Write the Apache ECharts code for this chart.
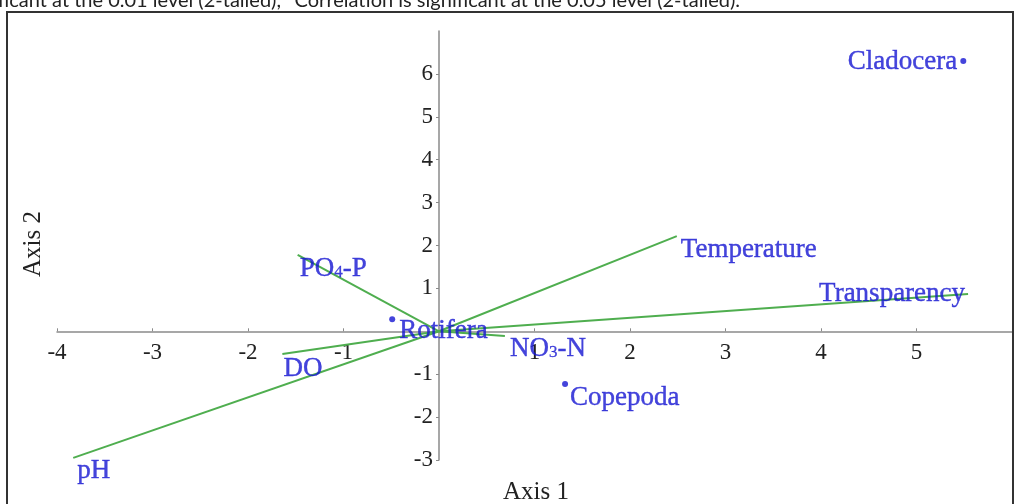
<!DOCTYPE html>
<html>
<head>
<meta charset="utf-8">
<script src="https://cdn.jsdelivr.net/npm/echarts@6/dist/echarts.min.js"></script>
<style>
html,body{margin:0;padding:0;background:#fff;}
#c{width:1017px;height:504px;}
</style>
</head>
<body>
<div id="c"></div>
<script>
// ---- data ----
const xTicks = [-4, -3, -2, -1, 1, 2, 3, 4, 5];
const yTicks = [-3, -2, -1, 1, 2, 3, 4, 5, 6];
const speciesNames = ['Cladocera', 'Rotifera', 'Copepoda'];
const speciesX = [5.49, -0.49, 1.32];
const speciesY = [6.30, 0.28, -1.23];
const varNames = ['Temperature', 'Transparency', 'PO4-P', 'DO', 'pH', 'NO3-N'];
const varX = [2.49, 5.54, -1.48, -1.64, -3.83, 0.69];
const varY = [2.22, 0.87, 1.78, -0.53, -2.95, -0.11];
const footText = '**Correlation is significant at the 0.01 level (2-tailed), *Correlation is significant at the 0.05 level (2-tailed).';

// ---- styles ----
const labelStyle = {
  'Cladocera':    {position: 'left',  distance: 3, offset: [0, 1]},
  'Rotifera':     {position: 'right', distance: 4, offset: [0, 12]},
  'Copepoda':     {position: 'right', distance: 2, offset: [0, 14]},
  'Temperature':  {position: 'right', distance: 4, offset: [0, 14]},
  'Transparency': {position: 'left',  distance: 3, offset: [0, 0]},
  'PO4-P':        {position: 'right', distance: 2, offset: [0, 14]},
  'DO':           {position: 'right', distance: 1, offset: [0, 15]},
  'pH':           {position: 'right', distance: 4, offset: [0, 13]},
  'NO3-N':        {position: 'right', distance: 5, offset: [0, 13]}
};
const BLUE = '#1515d2';
const GREEN = '#4fae4f';
const AXIS = '#8a8a8a';
const SERIF = '"Liberation Serif", "Times New Roman", serif';

// grid geometry (pixels)
const G = {left: 57, right: 5, top: 31, bottom: 44, W: 1017, H: 504};
const xMin = -4, xMax = 6, yMin = -3, yMax = 7;
const gw = G.W - G.left - G.right, gh = G.H - G.top - G.bottom;
const xZeroOffset = -((0 - xMin) / (xMax - xMin)) * gw;
const yZeroOffset = -((0 - yMin) / (yMax - yMin)) * gh;

function richName(n) {
  if (n === 'PO4-P') return '{t|PO}{s|4}{t|-P}';
  if (n === 'NO3-N') return '{t|NO}{s|3}{t|-N}';
  return '{t|' + n + '}';
}
const rich = {
  t: {fontFamily: SERIF, fontSize: 27, color: BLUE, lineHeight: 30, textBorderColor: BLUE, textBorderWidth: 0.4},
  s: {fontFamily: SERIF, fontSize: 17, color: BLUE, lineHeight: 30, verticalAlign: 'bottom', padding: [0, 0, 3, 0],
      textBorderColor: BLUE, textBorderWidth: 0.3}
};
function makeLabel(n) {
  const s = labelStyle[n];
  return {show: true, position: s.position, distance: s.distance, offset: s.offset,
          formatter: richName(n), rich: rich};
}

const chart = echarts.init(document.getElementById('c'), null, {renderer: 'canvas'});
chart.setOption({
  animation: false,
  backgroundColor: '#fff',
  grid: {left: G.left, right: G.right, top: G.top, bottom: G.bottom, containLabel: false, outerBoundsMode: 'none'},
  xAxis: {
    type: 'value', min: xMin, max: xMax, interval: 1, position: 'bottom', offset: yZeroOffset,
    axisLine: {show: true, onZero: false, lineStyle: {color: AXIS, width: 1.5}},
    axisTick: {show: true, inside: true, length: 3, customValues: xTicks, lineStyle: {color: AXIS}},
    axisLabel: {show: true, margin: 10, customValues: xTicks, fontFamily: SERIF, fontSize: 23, color: '#222'},
    splitLine: {show: false}
  },
  yAxis: {
    type: 'value', min: yMin, max: yMax, interval: 1, position: 'left', offset: xZeroOffset,
    axisLine: {show: true, onZero: false, lineStyle: {color: AXIS, width: 1.5}},
    axisTick: {show: true, inside: false, length: 3, customValues: yTicks, lineStyle: {color: AXIS}},
    axisLabel: {show: true, margin: 6, customValues: yTicks, fontFamily: SERIF, fontSize: 23, color: '#222'},
    splitLine: {show: false}
  },
  graphic: [
    {type: 'rect', shape: {x: 7, y: 12, width: 1006, height: 520},
     style: {fill: 'none', stroke: '#333', lineWidth: 2}, z: 1},
    {type: 'text', x: 740, y: 11, style: {text: footText, fontFamily: 'Lato, "Noto Sans", sans-serif', fontSize: 20,
     fill: '#222', align: 'right', verticalAlign: 'bottom'}},
    {type: 'text', x: 536, y: 492, style: {text: 'Axis 1', fontFamily: SERIF, fontSize: 25, fill: '#222',
     align: 'center', verticalAlign: 'middle'}},
    {type: 'text', x: 33, y: 244, rotation: Math.PI / 2, style: {text: 'Axis 2', fontFamily: SERIF, fontSize: 25,
     fill: '#222', align: 'center', verticalAlign: 'middle'}}
  ],
  series: [
    {
      type: 'lines', coordinateSystem: 'cartesian2d', silent: true,
      lineStyle: {color: GREEN, width: 2, opacity: 1},
      data: varNames.map((n, i) => ({coords: [[0, 0], [varX[i], varY[i]]]}))
    },
    {
      type: 'scatter', symbolSize: 0, silent: true,
      data: varNames.map((n, i) => ({value: [varX[i], varY[i]], name: n, label: makeLabel(n)}))
    },
    {
      type: 'scatter', symbol: 'circle', symbolSize: 6, silent: true,
      itemStyle: {color: BLUE},
      data: speciesNames.map((n, i) => ({value: [speciesX[i], speciesY[i]], name: n, label: makeLabel(n)}))
    }
  ]
});
</script>
</body>
</html>
